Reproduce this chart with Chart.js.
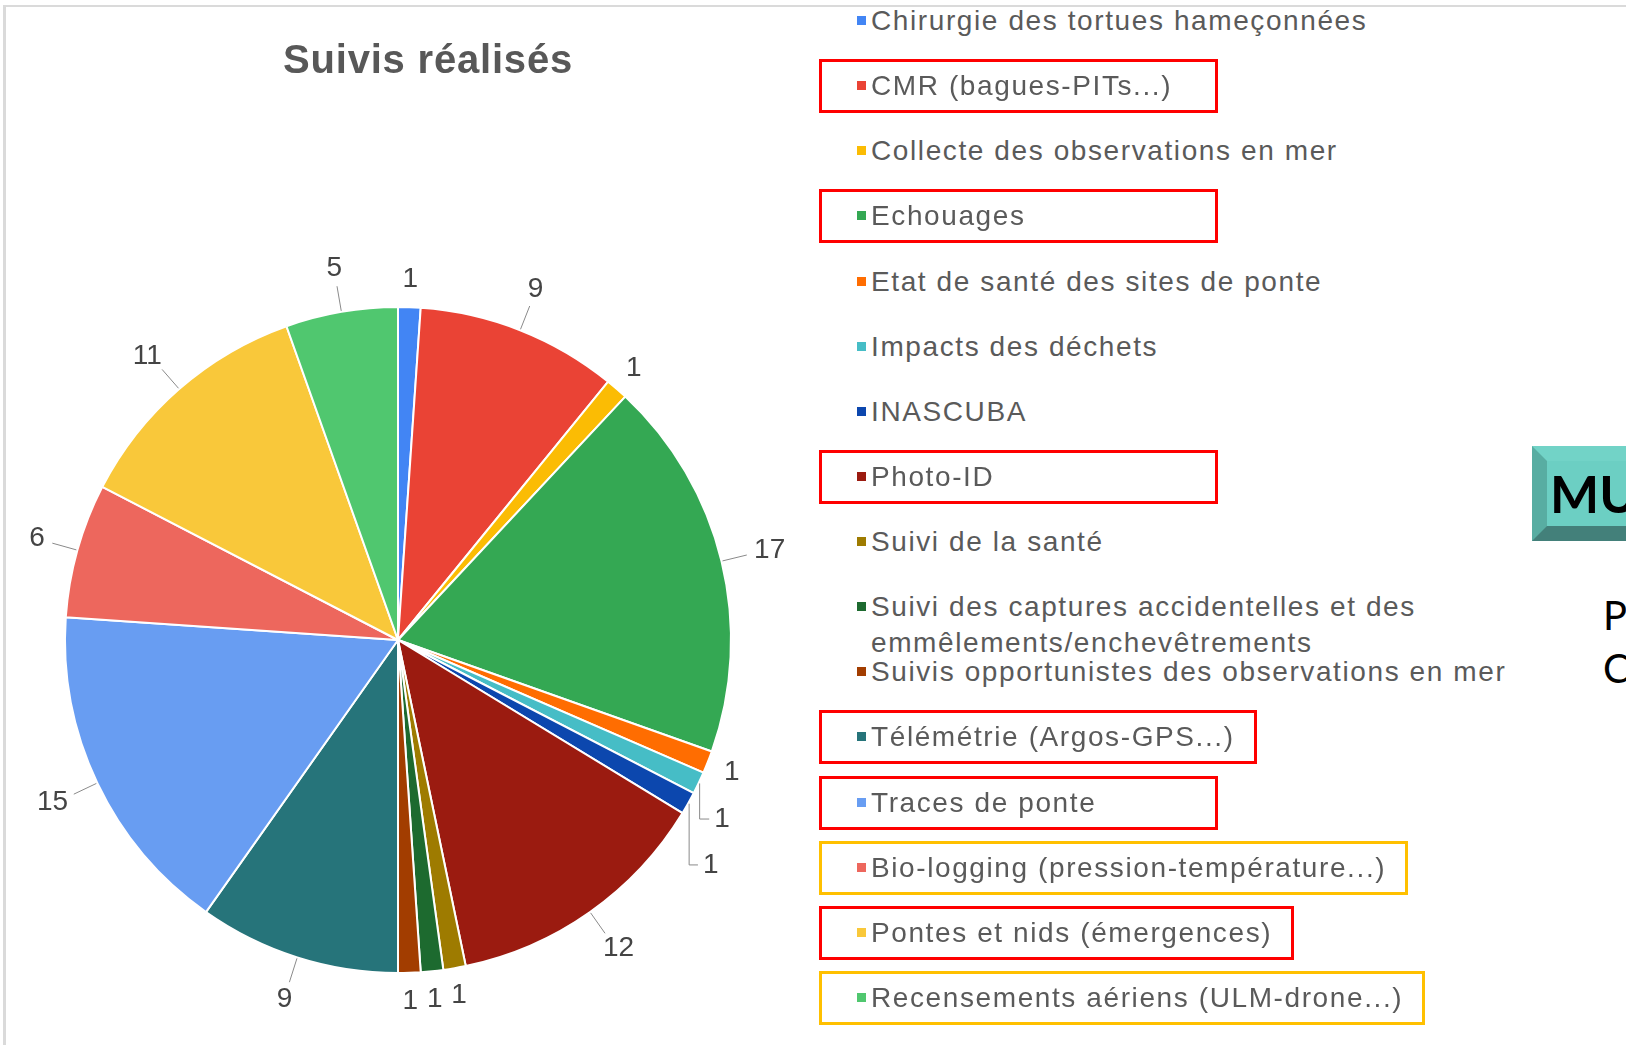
<!DOCTYPE html>
<html lang="fr">
<head>
<meta charset="utf-8">
<title>Suivis réalisés</title>
<script src="https://cdn.jsdelivr.net/npm/chart.js@4.4.1/dist/chart.umd.min.js"></script>
<style>
  html, body { margin: 0; padding: 0; background: #fff; }
  body { width: 1626px; height: 1045px; position: relative; overflow: hidden;
         font-family: "Liberation Sans", Arial, sans-serif; }
  #frame { position: absolute; left: 3px; top: 5px; right: -10px; bottom: -10px;
           border-top: 2px solid #dadada; border-left: 3px solid #dadada; }
  #chart { position: absolute; left: 0; top: 0; }
  #title { position: absolute; left: 228px; width: 400px; top: 35px; text-align: center;
           font-size: 40px; font-weight: bold; letter-spacing: 0.8px; color: #585858;
           line-height: 48px; }
  .row { position: absolute; left: 857px; width: 700px; font-size: 28px; line-height: 36px;
         letter-spacing: 1.6px; color: #5a5a5a; }
  .row .sw { position: absolute; left: 0; top: 13px; width: 9px; height: 9px; }
  .row .tx { position: absolute; left: 14px; top: 0; max-width: 680px; white-space: normal; }
  .box { position: absolute; left: 819px; height: 54px; box-sizing: border-box; border: 3px solid #ff0000; }
  .box.orange { border-color: #ffc000; }
  #mu { position: absolute; left: 1532px; top: 446px; width: 130px; height: 95px; box-sizing: border-box;
        background: #6ccfc3; border-top: 15px solid #72d3c7; border-left: 15px solid #58ada2;
        border-bottom: 15px solid #43807a; font-family: Lato, "Open Sans", sans-serif;
        font-weight: bold; font-size: 52px; line-height: 65px; padding-left: 3px; color: #000; }
  .side { position: absolute; left: 1603px; font-family: Lato, "Open Sans", sans-serif;
          font-size: 40px; line-height: 48px; color: #000; }
</style>
</head>
<body>
<div id="frame"></div>
<canvas id="chart" width="820" height="1045"></canvas>
<div id="title">Suivis réalisés</div>
<div id="legend"></div>
<div id="mu">MU</div>
<div class="side" style="top:591px">P</div>
<div class="side" style="top:644px">C</div>

<script>
// Données du graphique "Suivis réalisés"
const categories = [
    'Chirurgie des tortues hameçonnées',
    'CMR (bagues-PITs...)',
    'Collecte des observations en mer',
    'Echouages',
    'Etat de santé des sites de ponte',
    'Impacts des déchets',
    'INASCUBA',
    'Photo-ID',
    'Suivi de la santé',
    'Suivi des captures accidentelles et des emmêlements/enchevêtrements',
    'Suivis opportunistes des observations en mer',
    'Télémétrie (Argos-GPS...)',
    'Traces de ponte',
    'Bio-logging (pression-température...)',
    'Pontes et nids (émergences)',
    'Recensements aériens (ULM-drone...)'
];
const counts = [1, 9, 1, 17, 1, 1, 1, 12, 1, 1, 1, 9, 15, 6, 11, 5];
const sliceColors = [
    '#4285f4', '#ea4335', '#fbbc04', '#34a853', '#ff6d01', '#46bdc6', '#0c47ae', '#9b1b10',
    '#9e7b00', '#1d6a2f', '#a23d00', '#26747a', '#689df2', '#ed675d', '#f9c83a', '#50c76f'
];
// encadrés ajoutés à la main sur la capture
const redBoxes = ['CMR (bagues-PITs...)', 'Echouages', 'Photo-ID', 'Télémétrie (Argos-GPS...)',
                  'Traces de ponte', 'Pontes et nids (émergences)'];
const orangeBoxes = ['Bio-logging (pression-température...)', 'Recensements aériens (ULM-drone...)'];

// Valeurs à l'extérieur des parts, avec traits de rappel
const valueLabels = {
    id: 'valueLabels',
    afterDatasetsDraw(chart) {
        const ctx = chart.ctx;
        const meta = chart.getDatasetMeta(0);
        const placed = [];
        ctx.save();
        ctx.font = '28px "Liberation Sans", Arial, sans-serif';
        ctx.textAlign = 'center';
        ctx.textBaseline = 'middle';
        ctx.strokeStyle = '#8a8a8a';
        ctx.lineWidth = 1;
        meta.data.forEach((arc, i) => {
            const p = arc.getProps(['x', 'y', 'startAngle', 'endAngle', 'outerRadius'], true);
            const mid = (p.startAngle + p.endAngle) / 2;
            const cos = Math.cos(mid), sin = Math.sin(mid);
            const txt = String(chart.data.datasets[0].data[i]);
            const w = ctx.measureText(txt).width;
            const big = counts[i] >= 5;
            const gap = big ? 34 : 18;
            const cx = p.x + cos * (p.outerRadius + gap) + cos * w / 2;
            const y0 = p.y + sin * (p.outerRadius + gap) + sin * 10;
            let cy = y0;
            const hit = () => placed.some(b => Math.abs(b.x - cx) < (b.w + w) / 2 + 2 && Math.abs(b.y - cy) < 45);
            while (hit()) cy += sin >= 0 ? 2 : -2;
            placed.push({ x: cx, y: cy, w: w });

            const ex = p.x + cos * (p.outerRadius + 1);
            const ey = p.y + sin * (p.outerRadius + 1);
            if (cy !== y0) {
                const side = cos >= 0 ? 1 : -1;
                ctx.beginPath();
                ctx.moveTo(ex, ey);
                ctx.lineTo(ex, cy);
                ctx.lineTo(cx - side * (w / 2 + 5), cy);
                ctx.stroke();
            } else if (big) {
                ctx.beginPath();
                ctx.moveTo(ex, ey);
                ctx.lineTo(p.x + cos * (p.outerRadius + gap - 8), p.y + sin * (p.outerRadius + gap - 8));
                ctx.stroke();
            }
            ctx.fillStyle = '#444';
            ctx.fillText(txt, cx, cy);
        });
        ctx.restore();
    }
};

const chart = new Chart(document.getElementById('chart').getContext('2d'), {
    type: 'pie',
    data: {
        labels: categories,
        datasets: [{
            data: counts,
            backgroundColor: sliceColors,
            borderColor: '#ffffff',
            borderWidth: 2
        }]
    },
    options: {
        responsive: false,
        animation: false,
        devicePixelRatio: 1,
        layout: { padding: { left: 64, top: 306, right: 88, bottom: 71 } },
        plugins: {
            legend: { display: false },
            tooltip: { enabled: false }
        }
    },
    plugins: [valueLabels]
});

// Légende HTML construite depuis les données du graphique
const legendTop = 21, legendStep = 65.13;
const legend = document.getElementById('legend');
chart.data.labels.forEach((lab, i) => {
    const c = legendTop + legendStep * i;
    const row = document.createElement('div');
    row.className = 'row';
    row.style.top = (c - 18) + 'px';
    const sw = document.createElement('span');
    sw.className = 'sw';
    sw.style.background = chart.data.datasets[0].backgroundColor[i];
    const tx = document.createElement('span');
    tx.className = 'tx';
    tx.textContent = lab;
    row.appendChild(sw);
    row.appendChild(tx);
    legend.appendChild(row);

    const isRed = redBoxes.includes(lab), isOrange = orangeBoxes.includes(lab);
    if (isRed || isOrange) {
        const box = document.createElement('div');
        box.className = 'box' + (isOrange ? ' orange' : '');
        const textRight = 871 + tx.getBoundingClientRect().width;
        box.style.top = (c - 27) + 'px';
        box.style.width = Math.max(399, textRight - 819 + 22) + 'px';
        legend.appendChild(box);
    }
});
</script>
</body>
</html>
